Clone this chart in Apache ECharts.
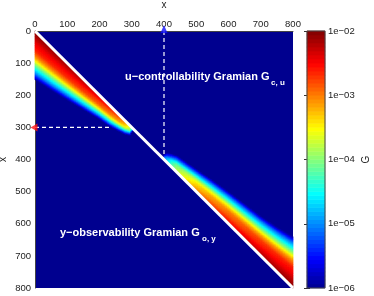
<!DOCTYPE html>
<html><head><meta charset="utf-8">
<script src="https://cdn.jsdelivr.net/npm/echarts@6/dist/echarts.min.js"></script>
<style>html,body{margin:0;padding:0;background:#fff}#c{width:374px;height:296px}</style>
</head><body><div id="c"></div>
<script>
// ---- data ----
const axisTicks = [0, 100, 200, 300, 400, 500, 600, 700, 800];
const cbTickValues = [-6, -5, -4, -3, -2];            // log10(G)
const cbTickLabels = ['1e−06', '1e−05', '1e−04', '1e−03', '1e−02'];
// u-controllability Gramian band (below diagonal, columns 0..300)
const upperX     = [0, 50, 100, 150, 200, 233, 260, 280, 295, 303];
const upperWidth = [152, 134, 115, 95, 75, 65, 52, 42, 30, 10];
const upperPeak  = [-2.05, -2.08, -2.12, -2.2, -2.35, -2.5, -2.65, -2.95, -3.5, -4.5];
// y-observability Gramian band (above diagonal, columns 400..800)
const lowerX     = [400, 410, 425, 440, 500, 550, 600, 650, 700, 750, 800];
const lowerWidth = [15, 30, 42, 52, 70, 86, 100, 112, 124, 140, 160];
const lowerPeak  = [-5.0, -4.6, -4.1, -3.7, -3.0, -2.7, -2.5, -2.35, -2.2, -2.1, -2.03];
// decay profile across a band (fraction of band width -> log10 G, for a peak of 1e-2)
const profileT = [0, 0.12, 0.26, 0.4, 0.52, 0.6, 0.68, 0.78, 0.87, 0.94, 1];
const profileV = [-2.0, -2.15, -2.42, -2.6, -3.0, -3.4, -3.9, -4.5, -5.0, -5.5, -6.0];
const diagonal = [[0, 0], [800, 800]];
const outputLine = [[0, 300], [300, 300]];
const inputLine = [[400, 0], [400, 400]];
const inputMark = [[400, 0]];
const outputMark = [[0, 300]];

// ---- build ----
function interp(xs, ys, x) {
  if (x <= xs[0]) return ys[0];
  for (let k = 1; k < xs.length; k++) {
    if (x <= xs[k]) { const f = (x - xs[k-1]) / (xs[k] - xs[k-1]); return ys[k-1] + f * (ys[k] - ys[k-1]); }
  }
  return ys[ys.length - 1];
}
function bandValue(off, W, P) {
  if (off < 0 || off > W) return null;
  const s = interp(profileT, profileV, off / W);
  const v = P + (s + 2) * ((P + 6) / 4);
  // quantise to the 64 colour levels of the original colormap
  const q = Math.min(63, Math.max(0, Math.floor((v + 6) * 16)));
  return -6 + (q + 0.5) / 16;
}
const N = 400, cell = 800 / N;
const cats = []; for (let i = 0; i < N; i++) cats.push(String(i));
const heat = [];
for (let i = 0; i < N; i++) {
  const X = (i + 0.5) * cell;
  for (let j = 0; j < N; j++) {
    const Y = (j + 0.5) * cell;
    let v = null;
    if (X <= upperX[upperX.length - 1] && Y >= X) {
      v = bandValue(Y - X, interp(upperX, upperWidth, X), interp(upperX, upperPeak, X));
    } else if (X >= lowerX[0] && X >= Y) {
      v = bandValue(X - Y, interp(lowerX, lowerWidth, X), interp(lowerX, lowerPeak, X));
    }
    if (v !== null) heat.push([i, j, v]);
  }
}
// MATLAB jet(64)
const jet = [];
for (let k = 0; k < 64; k++) {
  const x = (k + 1) / 64;
  const c = v => Math.round(255 * Math.max(0, Math.min(1, v)));
  jet.push('rgb(' + c(Math.min(4*x - 1.5, -4*x + 4.5)) + ',' + c(Math.min(4*x - 0.5, -4*x + 3.5)) + ',' + c(Math.min(4*x + 0.5, -4*x + 2.5)) + ')');
}
const cbCats = [], cbData = [];
for (let k = 0; k < 64; k++) { cbCats.push(String(k)); cbData.push([0, k, -6 + (k + 0.5) / 16]); }

const FF = '"Liberation Sans", Arial, Helvetica, sans-serif';
const lblStyle = { fontFamily: FF, fontSize: 9.5, color: '#222' };
const G = { containLabel: false, outerBoundsMode: 'none' };
const chart = echarts.init(document.getElementById('c'), null, { renderer: 'canvas' });
chart.setOption({
  animation: false,
  backgroundColor: '#fff',
  textStyle: { fontFamily: FF },
  grid: [
    Object.assign({ left: 35, top: 31, width: 258, height: 257, show: true, backgroundColor: '#00008f', borderWidth: 0 }, G),
    Object.assign({ left: 35, top: 31, width: 258, height: 257 }, G),
    Object.assign({ left: 307, top: 31, width: 18, height: 257 }, G),
    Object.assign({ left: 307, top: 31, width: 18, height: 257 }, G)
  ],
  xAxis: [
    { gridIndex: 0, type: 'value', min: 0, max: 800, interval: 100, position: 'top',
      name: 'x', nameLocation: 'middle', nameGap: 21, nameMoveOverlap: false, nameTextStyle: { fontFamily: FF, fontSize: 10, color: '#222' },
      axisLine: { show: true, onZero: false, lineStyle: { color: '#444', width: 1 } }, axisTick: { show: false },
      splitLine: { show: false },
      axisLabel: Object.assign({ margin: 2, formatter: v => axisTicks.indexOf(v) >= 0 ? String(v) : '' }, lblStyle) },
    { gridIndex: 1, type: 'category', data: cats, show: false },
    { gridIndex: 2, type: 'value', min: 0, max: 1, show: false },
    { gridIndex: 3, type: 'category', data: ['0'], show: false }
  ],
  yAxis: [
    { gridIndex: 0, type: 'value', min: 0, max: 800, interval: 100, inverse: true,
      name: 'x', nameLocation: 'middle', nameGap: 27, nameMoveOverlap: false, nameTextStyle: { fontFamily: FF, fontSize: 10, color: '#222' },
      axisLine: { show: true, onZero: false, lineStyle: { color: '#444', width: 1 } }, axisTick: { show: false },
      splitLine: { show: false },
      axisLabel: Object.assign({ margin: 4 }, lblStyle) },
    { gridIndex: 1, type: 'category', data: cats, inverse: true, show: false },
    { gridIndex: 2, type: 'value', min: -6, max: -2, interval: 1, position: 'right',
      name: 'G', nameLocation: 'middle', nameGap: 36, nameMoveOverlap: false, nameTextStyle: { fontFamily: FF, fontSize: 10, color: '#222' },
      axisLine: { show: false }, splitLine: { show: false },
      axisTick: { show: true, inside: true, length: 3, lineStyle: { color: '#333' } },
      axisLabel: Object.assign({ margin: 3, formatter: v => { const k = cbTickValues.indexOf(v); return k >= 0 ? cbTickLabels[k] : ''; } }, lblStyle) },
    { gridIndex: 3, type: 'category', data: cbCats, show: false },
    { gridIndex: 2, type: 'value', min: -6, max: -2, interval: 1, position: 'left',
      axisLine: { show: false }, splitLine: { show: false }, axisLabel: { show: false },
      axisTick: { show: true, inside: true, length: 3, lineStyle: { color: '#333' } } }
  ],
  visualMap: { type: 'continuous', show: false, min: -6, max: -2, dimension: 2, seriesIndex: [2, 6], inRange: { color: jet } },
  series: [
    { type: 'line', xAxisIndex: 0, yAxisIndex: 0, data: outputLine, symbol: 'none', z: 2,
      lineStyle: { color: '#fff', width: 1.2, type: [4, 3] } },
    { type: 'line', xAxisIndex: 0, yAxisIndex: 0, data: inputLine, symbol: 'none', z: 2,
      lineStyle: { color: '#fff', width: 1.2, type: [4, 3] } },
    { type: 'heatmap', xAxisIndex: 1, yAxisIndex: 1, data: heat, z: 3, progressive: 0, emphasis: { disabled: true } },
    { type: 'line', xAxisIndex: 0, yAxisIndex: 0, data: diagonal, symbol: 'none', z: 4,
      lineStyle: { color: '#fff', width: 3 } },
    { type: 'scatter', xAxisIndex: 0, yAxisIndex: 0, data: inputMark, symbol: 'triangle', symbolSize: [7, 8],
      symbolOffset: [0, -2], itemStyle: { color: '#1010ff' }, z: 5, clip: false },
    { type: 'scatter', xAxisIndex: 0, yAxisIndex: 0, data: outputMark, symbol: 'triangle', symbolSize: [8, 7],
      symbolRotate: 90, symbolOffset: [-1, 0], itemStyle: { color: '#ff1010' }, z: 5, clip: false },
    { type: 'heatmap', xAxisIndex: 3, yAxisIndex: 3, data: cbData, z: 3, progressive: 0, emphasis: { disabled: true } }
  ],
  graphic: [
    { type: 'text', x: 125, y: 77, z: 10, style: { text: 'u−controllability Gramian G', fill: '#fff', font: 'bold 11px ' + FF, verticalAlign: 'middle' } },
    { type: 'text', x: 271, y: 83, z: 10, style: { text: 'c, u', fill: '#fff', font: 'bold 8px ' + FF, verticalAlign: 'middle' } },
    { type: 'text', x: 60, y: 233, z: 10, style: { text: 'y−observability Gramian G', fill: '#fff', font: 'bold 11px ' + FF, verticalAlign: 'middle' } },
    { type: 'text', x: 202, y: 239, z: 10, style: { text: 'o, y', fill: '#fff', font: 'bold 8px ' + FF, verticalAlign: 'middle' } },
    { type: 'rect', z: 10, shape: { x: 307, y: 31, width: 18, height: 257 }, style: { fill: 'none', stroke: '#444', lineWidth: 1 } }
  ]
});
</script></body></html>
